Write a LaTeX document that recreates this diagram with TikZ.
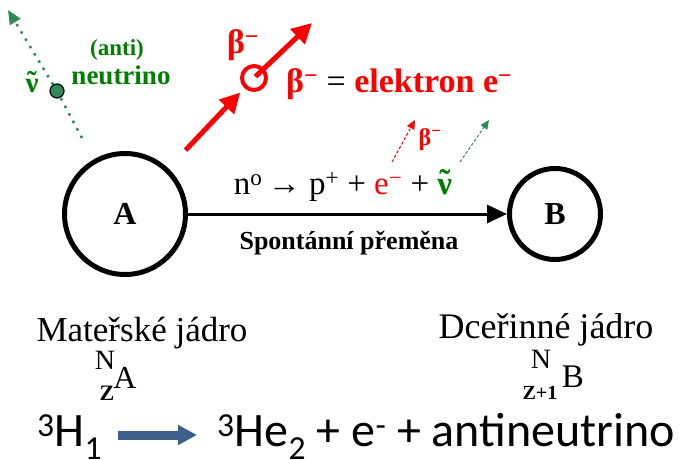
\documentclass[tikz,border=0pt]{standalone}
\usepackage{fontspec}
\setmainfont{Liberation Serif}
\newfontfamily\calibfont{Carlito}
\usetikzlibrary{arrows.meta}

\definecolor{nured}{RGB}{255,0,0}
\definecolor{nugreen}{RGB}{0,128,0}
\definecolor{arrgreen}{RGB}{46,139,87}
\definecolor{arrblue}{RGB}{62,94,140}

\newcommand*{\supminus}{\textsuperscript{−}}
\newcommand*{\antinu}{\leavevmode\textbf{\ooalign{ν\cr\hidewidth\raisebox{0.05em}{˜}\hidewidth\cr}}}
\newcommand*{\fsz}[1]{\fontsize{#1}{#1}\selectfont}

\begin{document}
\begin{tikzpicture}
[
	x=1pt, y=-1pt,
	nucleus/.style={circle,draw,line width=5pt,inner sep=0pt},
	electron/.style={circle,draw=nured,line width=4pt,inner sep=0pt,minimum size=24pt},
	nudot/.style={circle,draw=black,fill=arrgreen,line width=1.2pt,inner sep=0pt,minimum size=14pt},
	betaarrow/.style={nured,line width=5pt,-{Triangle[length=20pt,width=20pt]}},
	thinbeta/.style={nured,line width=1pt,densely dashed,-{Triangle[length=9pt,width=8pt]}},
	thinnu/.style={arrgreen,line width=1pt,densely dashed,-{Triangle[length=9pt,width=8pt]}},
	nupath/.style={arrgreen,line width=2.5pt,dash pattern=on 2.5pt off 6pt},
	redtxt/.style={text=nured,font=\bfseries\fsz{34}},
	greentxt/.style={text=nugreen,font=\bfseries\fsz{27}},
	serif/.style={inner sep=0pt}
]
	\useasboundingbox (0,0) rectangle (681,460);

	% nuclei
	\node[nucleus,minimum size=121pt] (A) at (125,214) {\fsz{32}\bfseries A};
	\node[nucleus,minimum size=91pt] (B) at (555,214) {\fsz{32}\bfseries B};

	% decay arrow and labels
	\draw[line width=3pt,-{Triangle[length=20pt,width=18pt]}] (A) -- (B);
	\node[font=\fsz{33}] (eq) at (343,187) {n\textsuperscript{o}\,→ p\textsuperscript{+} + \textcolor{nured}{e\supminus} + \textcolor{nugreen}{\antinu}};
	\node[font=\bfseries\fsz{26}] (spont) at (349,243) {Spontánní přeměna};

	% beta electron
	\node[electron] (elec) at (254,78) {};
	\coordinate (btip) at (312,23);
	\draw[betaarrow,shorten <=25pt,shorten >=6pt] (A) -- (elec);
	\draw[betaarrow,shorten <=2pt] (elec.center) -- (btip);
	\node[redtxt] (beta) at (243,45) {β\supminus};
	\node[redtxt,anchor=west,inner sep=0pt] (betaeq) at (286,84) {β\supminus\ \textcolor{black}{\mdseries =} elektron e\supminus};

	% small arrows above the equation
	\coordinate (es) at (392,162);
	\coordinate (ee) at (415,120);
	\coordinate (ns) at (460,162);
	\coordinate (ne) at (489,120);
	\draw[thinbeta] (es) -- (ee);
	\draw[thinnu] (ns) -- (ne);
	\node[redtxt,font=\bfseries\fsz{24}] (betasm) at (430,140) {β\supminus};

	% antineutrino
	\node[nudot] (nu) at (57,91) {};
	\coordinate (nustart) at (82,138);
	\coordinate (nutip) at (8,10);
	\draw[nupath] (nustart) -- (nu);
	\draw[nupath,-{Triangle[length=14pt,width=12pt]}] (nu) -- (nutip);
	\node[greentxt,font=\bfseries\fsz{29}] (nusym) at (32,86) {\antinu};
	\node[greentxt,font=\bfseries\fsz{23}] (anti) at (117,50) {(anti)};
	\node[greentxt] (neutrino) at (121,75) {neutrino};

	% parent and daughter
	\node[serif,font=\fsz{35}] (mat) at (142,333) {Mateřské jádro};
	\node[serif,font=\fsz{28}] (NA) at (105,360) {N};
	\node[serif,font=\bfseries\fsz{22}] (ZA) at (107,393) {Z};
	\node[serif,font=\fsz{32}] (symA) at (125,378) {A};
	\node[serif,font=\fsz{36}] (dce) at (546,330) {Dceřinné jádro};
	\node[serif,font=\fsz{28}] (NB) at (541,359) {N};
	\node[serif,font=\bfseries\fsz{20}] (ZB) at (540,393) {Z+1};
	\node[serif,font=\fsz{33}] (symB) at (573,377) {B};

	% tritium
	\node[font=\calibfont\fsz{48},anchor=base west,inner sep=0pt] (H3) at (37,446) {\textsuperscript{3}H\textsubscript{1}};
	\node[font=\calibfont\fsz{48},anchor=base west,inner sep=0pt] (He3) at (217,446) {\textsuperscript{3}He\textsubscript{2} + e\textsuperscript{-} + antineutrino};
	\coordinate (arrs) at (118,435);
	\coordinate (arre) at (197,435);
	\draw[arrblue,line width=9pt,-{Triangle[length=19pt,width=19pt]}] (arrs) -- (arre);
\end{tikzpicture}
\end{document}
